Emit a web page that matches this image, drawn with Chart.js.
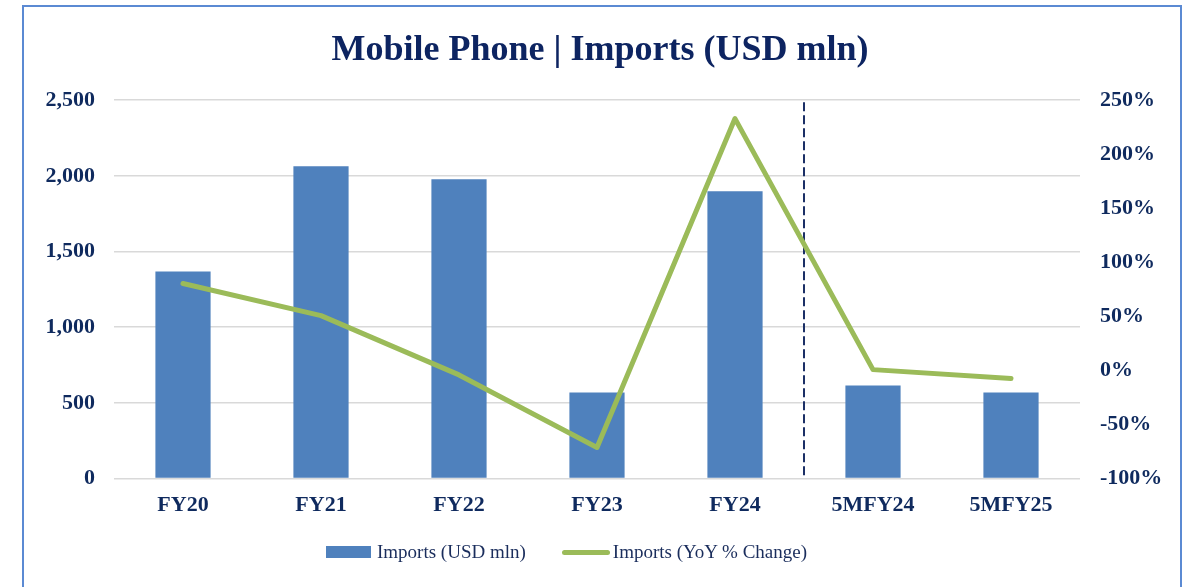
<!DOCTYPE html>
<html>
<head>
<meta charset="utf-8">
<script src="https://cdn.jsdelivr.net/npm/chart.js@4"></script>
<style>
    body { margin: 0; background: #fff; overflow: hidden; }
    .wrap { position: relative; width: 1188px; height: 587px; }
    .frame {
        position: absolute; left: 22px; top: 5px; width: 1160px; height: 600px;
        border: 2px solid #5b8ad3; box-sizing: border-box; pointer-events: none;
    }
    #legend {
        position: absolute; left: 326px; top: 541px; display: flex; align-items: center;
        font-family: 'Liberation Serif', serif; font-size: 19px; color: #1a2d5c;
    }
    .item { display: flex; align-items: center; margin-right: 36px; }
</style>
</head>
<body>
<div class="wrap">
    <canvas id="importsChart" width="1188" height="587"></canvas>
    <div class="frame"></div>
    <div id="legend"></div>
</div>
<script>
// Mobile phone imports
const categories = ['FY20', 'FY21', 'FY22', 'FY23', 'FY24', '5MFY24', '5MFY25'];
const importsUsd = [1369, 2063, 1978, 569, 1898, 615, 569];
const yoyChange = [80.5, 50.7, -4.1, -71.2, 233, 0.8, -7.5];
const leftTicks = [0, 500, 1000, 1500, 2000, 2500];
const rightTicks = [-100, -50, 0, 50, 100, 150, 200, 250];

const navy = '#0f2a5e';
const tickFont = { family: 'Liberation Serif', size: 22, weight: 'bold' };

// dashed separator between full years and 5M periods
const separator = {
    id: 'separator',
    beforeDatasetsDraw(chart) {
        const x = chart.scales.x;
        const area = chart.chartArea;
        const px = (x.getPixelForValue(4) + x.getPixelForValue(5)) / 2;
        const ctx = chart.ctx;
        ctx.save();
        ctx.strokeStyle = '#1b2f66';
        ctx.lineWidth = 2;
        ctx.setLineDash([9, 4]);
        ctx.beginPath();
        ctx.moveTo(px, area.top + 2);
        ctx.lineTo(px, area.bottom - 2);
        ctx.stroke();
        ctx.restore();
    }
};

// legend built as html from chart's own label items
const htmlLegend = {
    id: 'htmlLegend',
    afterUpdate(chart) {
        const box = document.getElementById('legend');
        box.innerHTML = '';
        chart.options.plugins.legend.labels.generateLabels(chart).forEach((item, i) => {
            const el = document.createElement('div');
            el.className = 'item';
            const sw = document.createElement('span');
            if (i === 0) {
                sw.style.cssText = 'display:inline-block;width:45px;height:12px;margin-right:6px;background:' + item.fillStyle;
            } else {
                sw.style.cssText = 'display:inline-block;width:48px;height:5px;border-radius:3px;margin-right:3px;background:' + item.strokeStyle;
            }
            const txt = document.createElement('span');
            txt.textContent = item.text;
            el.appendChild(sw);
            el.appendChild(txt);
            box.appendChild(el);
        });
    }
};

new Chart(document.getElementById('importsChart'), {
    data: {
        labels: categories,
        datasets: [{
            type: 'line',
            label: 'Imports (YoY % Change)',
            data: yoyChange,
            yAxisID: 'y1',
            borderColor: '#9bbb59',
            backgroundColor: '#9bbb59',
            borderWidth: 5,
            borderJoinStyle: 'round',
            borderCapStyle: 'round',
            pointRadius: 0,
            tension: 0,
            order: 0
        }, {
            type: 'bar',
            label: 'Imports (USD mln)',
            data: importsUsd,
            yAxisID: 'y',
            backgroundColor: '#4f81bd',
            borderWidth: 0,
            barPercentage: 0.4,
            categoryPercentage: 1,
            order: 1
        }]
    },
    options: {
        responsive: false,
        animation: false,
        layout: { padding: { left: 30, right: 18, top: 29, bottom: 54 } },
        plugins: {
            legend: {
                display: false,
                labels: {
                    generateLabels(chart) {
                        const ds = chart.data.datasets;
                        return [ds[1], ds[0]].map(d => ({
                            text: d.label,
                            fillStyle: d.backgroundColor,
                            strokeStyle: d.borderColor || d.backgroundColor
                        }));
                    }
                }
            },
            tooltip: { enabled: false },
            title: {
                display: true,
                text: 'Mobile Phone | Imports (USD mln)',
                color: '#0d2461',
                font: { family: 'Liberation Serif', size: 36, weight: 'bold' },
                padding: { top: 0, bottom: 28 }
            }
        },
        scales: {
            x: {
                grid: { display: false, drawTicks: false },
                border: { display: false },
                ticks: { color: navy, font: tickFont, padding: 14, maxRotation: 0 }
            },
            y: {
                position: 'left',
                min: 0,
                max: 2500,
                afterBuildTicks: s => { s.ticks = leftTicks.map(v => ({ value: v })); },
                afterFit: s => { s.width = 84; },
                grid: { color: '#d9d9d9', lineWidth: 1.5, drawTicks: false },
                border: { display: false },
                ticks: {
                    color: navy, font: tickFont, padding: 19,
                    callback: v => v.toLocaleString('en-US')
                }
            },
            y1: {
                position: 'right',
                min: -100,
                max: 250,
                afterBuildTicks: s => { s.ticks = rightTicks.map(v => ({ value: v })); },
                afterFit: s => { s.width = 90; },
                grid: { display: false, drawTicks: false },
                border: { display: false },
                ticks: {
                    color: navy, font: tickFont, padding: 20,
                    callback: v => v + '%'
                }
            }
        }
    },
    plugins: [separator, htmlLegend]
});
</script>
</body>
</html>
